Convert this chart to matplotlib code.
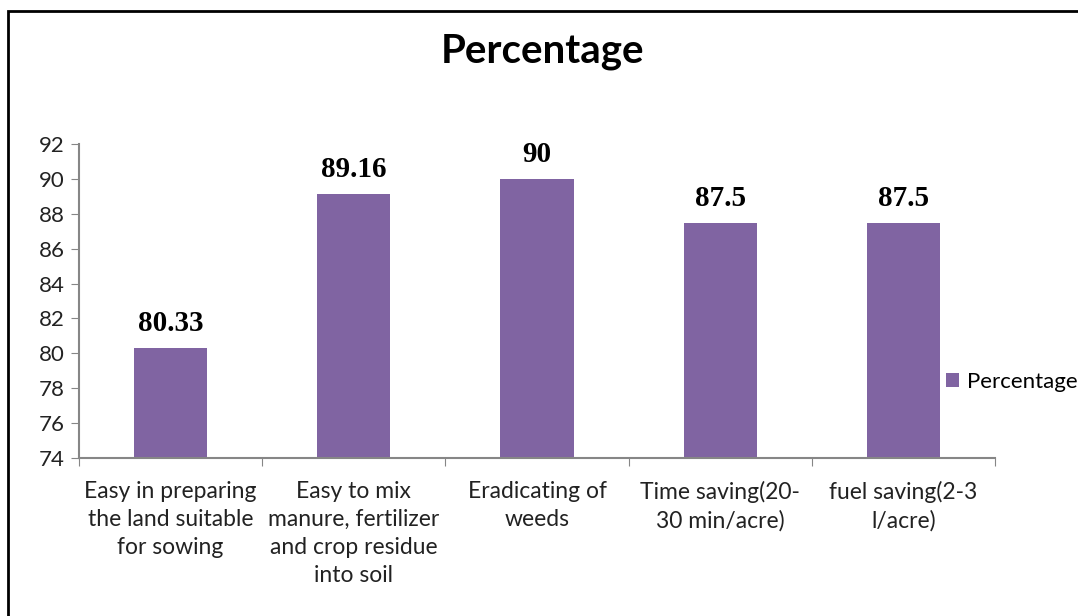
import matplotlib.pyplot as plt
from matplotlib.patches import Rectangle

categories = ['Easy in preparing\nthe land suitable\nfor sowing',
              'Easy to mix\nmanure, fertilizer\nand crop residue\ninto soil',
              'Eradicating of\nweeds',
              'Time saving(20-\n30 min/acre)',
              'fuel saving(2-3\nl/acre)']
values = [80.33, 89.16, 90, 87.5, 87.5]
value_labels = ['80.33', '89.16', '90', '87.5', '87.5']
yticks = [74, 76, 78, 80, 82, 84, 86, 88, 90, 92]

bar_color = '#8064A2'
axis_color = '#868686'
text_font = 'Lato'

fig = plt.figure(figsize=(10.78, 6.16), dpi=100)
ax = fig.add_axes([79 / 1078, 1 - 458 / 616, 916 / 1078, 314 / 616])

x = list(range(len(values)))
ax.bar(x, values, width=0.4, color=bar_color, label='Percentage', zorder=2)
ax.set_xlim(-0.5, len(values) - 0.5)
ax.set_ylim(74, 92)
ax.set_yticks(yticks)
ax.tick_params(axis='y', direction='out', length=6, color=axis_color,
               labelsize=16, labelcolor='#222222', pad=4)
ax.tick_params(axis='y', labelfontfamily=text_font)

# category ticks sit on the boundaries between bars
ax.set_xticks([i - 0.5 for i in range(len(values) + 1)], minor=False)
ax.set_xticklabels([])
ax.tick_params(axis='x', direction='out', length=6, color=axis_color)
for xi, lab in zip(x, categories):
    ax.text(xi, 72.7, lab, ha='center', va='top', fontsize=16.5,
            family=text_font, color='#222222', linespacing=1.42)

for side in ['top', 'right']:
    ax.spines[side].set_visible(False)
for side in ['left', 'bottom']:
    ax.spines[side].set_color(axis_color)
    ax.spines[side].set_linewidth(1.5)

for xi, v, lab in zip(x, values, value_labels):
    ax.text(xi, v + 0.6, lab, ha='center', va='bottom', fontsize=21,
            fontweight='bold', family='Liberation Serif')

fig.text(543 / 1078, 1 - 52 / 616, 'Percentage', ha='center', va='center',
         fontsize=29, fontweight='bold', family=text_font)

fig.legend(loc='center left', bbox_to_anchor=(946 / 1078, 1 - 382 / 616),
           frameon=False, prop={'family': text_font, 'size': 16},
           handlelength=0.6, handleheight=0.6, handletextpad=0.35,
           borderaxespad=0, borderpad=0)

# outer chart border, running off the right and bottom edges
fig.patches.append(Rectangle((8 / 1078, -0.1), 1.2, 1.1 - 11 / 616,
                             transform=fig.transFigure, fill=False,
                             edgecolor='black', linewidth=2))

fig.savefig('out.png', dpi=100)
